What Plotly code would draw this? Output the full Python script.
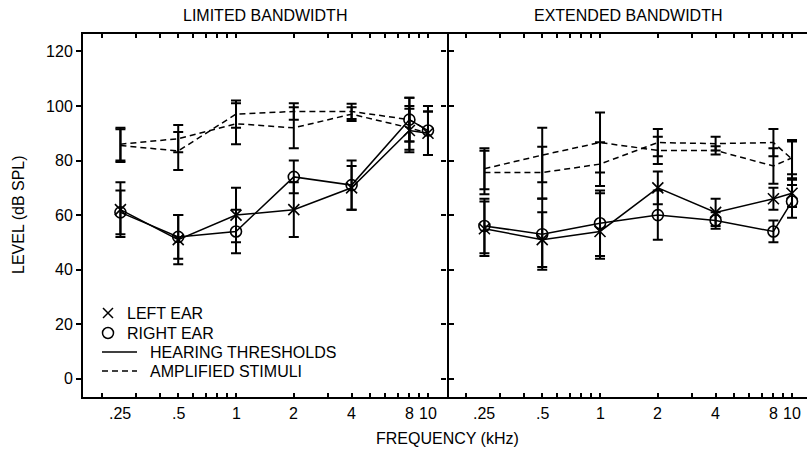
import math
import plotly.graph_objects as go

# ---------------- data ----------------
freqs = [0.25, 0.5, 1, 2, 4, 8, 10]
freq_labels = [".25", ".5", "1", "2", "4", "8", "10"]

# Limited bandwidth panel
lim_thr_left = [62, 51, 60, 62, 70, 91, 90]
lim_thr_left_err = [10, 9, 10, 10, 8, 8, 8]
lim_thr_right = [61, 52, 54, 74, 71, 95, 91]
lim_thr_right_err = [8, 8, 8, 6, 9, 8, 9]
lim_amp_left = [86, 88, 93.5, 92, 97, 92, 90]
lim_amp_left_err = [6, 5, 7.5, 7.5, 2.5, 8, 8]
lim_amp_right = [85.5, 83.5, 97, 98, 98, 95, 91]
lim_amp_right_err = [6, 7, 5, 3, 2.8, 8, 9]

# Extended bandwidth panel
ext_thr_left = [55, 51, 54, 70, 61, 66, 68]
ext_thr_left_up = [10, 10, 14, 6, 5, 4, 5]
ext_thr_left_dn = [10, 10, 10, 6, 5, 4, 5]
ext_thr_right = [56, 53, 57, 60, 58, 54, 65]
ext_thr_right_err = [10, 13, 12, 9, 3, 4, 6]
ext_amp_left = [77, 82, 86.6, 83.7, 83.7, 78, 81]
ext_amp_left_err = [7.5, 10, 11, 5, 1.5, 6.5, 6]
ext_amp_right = [75.6, 75.6, 78.7, 86.6, 86.2, 86.6, 80.5]
ext_amp_right_err = [8, 9.5, 8, 5, 2.5, 5, 7]

y_ticks = [0, 20, 40, 60, 80, 100, 120]
y_tick_text = ["0", "20", "40", "60", "80", "100", "120"]
all_x = [0.2, 0.3, 0.4, 0.5, 0.6, 0.7, 0.8, 0.9, 1, 2, 3, 4, 5, 6, 7, 8, 9, 10]

# ---------------- layout helpers ----------------
W, H = 807, 454
FONT = "Liberation Sans, Arial, sans-serif"


def px(x):
    return x / W


def py(y):
    return 1 - y / H


def err(up, dn=None):
    d = dict(type="data", array=up, thickness=2, width=5, color="black")
    if dn is not None:
        d["arrayminus"] = dn
        d["symmetric"] = False
    return d


fig = go.Figure()

LW = 1.5
x_marker = dict(symbol="x-thin-open", size=11, color="black", line=dict(width=1.6, color="black"))
o_marker = dict(symbol="circle-open", size=11, color="black", line=dict(width=1.6, color="black"))


def add_panel(xa, ya, thr_l, thr_l_e, thr_r, thr_r_e, amp_l, amp_l_e, amp_r, amp_r_e):
    fig.add_trace(go.Scatter(x=freqs, y=amp_l, mode="lines", xaxis=xa, yaxis=ya,
                             line=dict(color="black", width=LW, dash="6px,4px"),
                             error_y=amp_l_e, showlegend=False))
    fig.add_trace(go.Scatter(x=freqs, y=amp_r, mode="lines", xaxis=xa, yaxis=ya,
                             line=dict(color="black", width=LW, dash="6px,4px"),
                             error_y=amp_r_e, showlegend=False))
    fig.add_trace(go.Scatter(x=freqs, y=thr_l, mode="lines+markers", xaxis=xa, yaxis=ya,
                             line=dict(color="black", width=LW), marker=x_marker,
                             error_y=thr_l_e, showlegend=False))
    fig.add_trace(go.Scatter(x=freqs, y=thr_r, mode="lines+markers", xaxis=xa, yaxis=ya,
                             line=dict(color="black", width=LW), marker=o_marker,
                             error_y=thr_r_e, showlegend=False))


add_panel("x", "y",
          lim_thr_left, err(lim_thr_left_err), lim_thr_right, err(lim_thr_right_err),
          lim_amp_left, err(lim_amp_left_err), lim_amp_right, err(lim_amp_right_err))
add_panel("x2", "y2",
          ext_thr_left, err(ext_thr_left_up, ext_thr_left_dn), ext_thr_right, err(ext_thr_right_err),
          ext_amp_left, err(ext_amp_left_err), ext_amp_right, err(ext_amp_right_err))

xr1 = [-0.797, 1.099]
xr2 = [-0.797, 1.078]
yr = [-6.7, 126.4]
ydom = [py(397), py(34)]
tickfont = dict(family=FONT, size=16, color="black")

# tick labels kept "on" with blank text so the tick marks themselves are drawn
x_common = dict(type="log", showgrid=False, zeroline=False, tickmode="array",
                tickvals=all_x, ticktext=[" "] * len(all_x),
                ticks="inside", ticklen=4, tickwidth=1.5, tickcolor="black",
                showticklabels=True, tickfont=tickfont,
                showline=True, linecolor="black", linewidth=2,
                mirror="ticks", automargin=False, layer="above traces")

fig.update_layout(
    width=W, height=H,
    margin=dict(l=0, r=0, t=0, b=0, pad=0),
    paper_bgcolor="white", plot_bgcolor="white",
    showlegend=False,
    hovermode=False,
    font=dict(family=FONT, size=16, color="black"),
    xaxis=dict(x_common, domain=[px(83), px(447)], range=xr1, anchor="y"),
    xaxis2=dict(x_common, domain=[px(447), 1.0], range=xr2, anchor="y2"),
    yaxis=dict(domain=ydom, range=yr, showgrid=False, zeroline=False, tickmode="array",
               tickvals=y_ticks, ticktext=y_tick_text, ticks="outside", ticklen=5,
               tickwidth=1.5, tickcolor="black",
               tickfont=tickfont, showline=True, linecolor="black", linewidth=2,
               mirror="ticks", anchor="x", automargin=False, layer="above traces"),
    yaxis2=dict(domain=ydom, range=yr, showgrid=False, zeroline=False, tickmode="array",
                tickvals=y_ticks, ticktext=[" "] * len(y_ticks), ticks="outside", ticklen=5,
                tickwidth=1.5, tickcolor="black", tickfont=tickfont,
                showticklabels=True, showline=False, mirror=False,
                anchor="x2", automargin=False, layer="above traces"),
)

ann_font = dict(family=FONT, size=16, color="black")
annotations = [
    dict(text="LIMITED BANDWIDTH", x=px(265), y=py(15), xref="paper", yref="paper",
         showarrow=False, font=ann_font, xanchor="center", yanchor="middle"),
    dict(text="EXTENDED BANDWIDTH", x=px(628), y=py(15), xref="paper", yref="paper",
         showarrow=False, font=ann_font, xanchor="center", yanchor="middle"),
    dict(text="FREQUENCY (kHz)", x=px(447), y=py(438), xref="paper", yref="paper",
         showarrow=False, font=ann_font, xanchor="center", yanchor="middle"),
    dict(text="LEVEL (dB SPL)", x=px(18), y=py(215), xref="paper", yref="paper",
         showarrow=False, font=ann_font, xanchor="center", yanchor="middle", textangle=-90),
]
# frequency tick labels (log axis: annotation x is given as log10 of the value)
for xref in ["x", "x2"]:
    for f, lab in zip(freqs, freq_labels):
        annotations.append(dict(text=lab, x=math.log10(f), y=py(413), xref=xref, yref="paper",
                                showarrow=False, font=ann_font, xanchor="center",
                                yanchor="middle"))
legend_items = [("LEFT EAR", 125, 313), ("RIGHT EAR", 125, 333),
                ("HEARING THRESHOLDS", 148, 352), ("AMPLIFIED STIMULI", 148, 371)]
for txt, lx, ly in legend_items:
    annotations.append(dict(text=txt, x=px(lx), y=py(ly), xref="paper", yref="paper",
                            showarrow=False, font=ann_font, xanchor="left", yanchor="middle"))
fig.update_layout(annotations=annotations)

shp_line = dict(color="black", width=1.5)
shapes = [
    dict(type="line", xref="paper", yref="paper", x0=px(103), y0=py(308), x1=px(113), y1=py(318), line=shp_line),
    dict(type="line", xref="paper", yref="paper", x0=px(103), y0=py(318), x1=px(113), y1=py(308), line=shp_line),
    dict(type="circle", xref="paper", yref="paper", x0=px(102.5), y0=py(338.5), x1=px(113.5), y1=py(327.5), line=shp_line),
    dict(type="line", xref="paper", yref="paper", x0=px(102), y0=py(352), x1=px(137), y1=py(352), line=shp_line),
    dict(type="line", xref="paper", yref="paper", x0=px(102), y0=py(371), x1=px(137), y1=py(371),
         line=dict(color="black", width=1.5, dash="6px,4px")),
]
fig.update_layout(shapes=shapes)

fig.write_html("out.html", config={"displayModeBar": False},
               post_script="document.body.style.margin='0';document.body.style.overflow='hidden';")
